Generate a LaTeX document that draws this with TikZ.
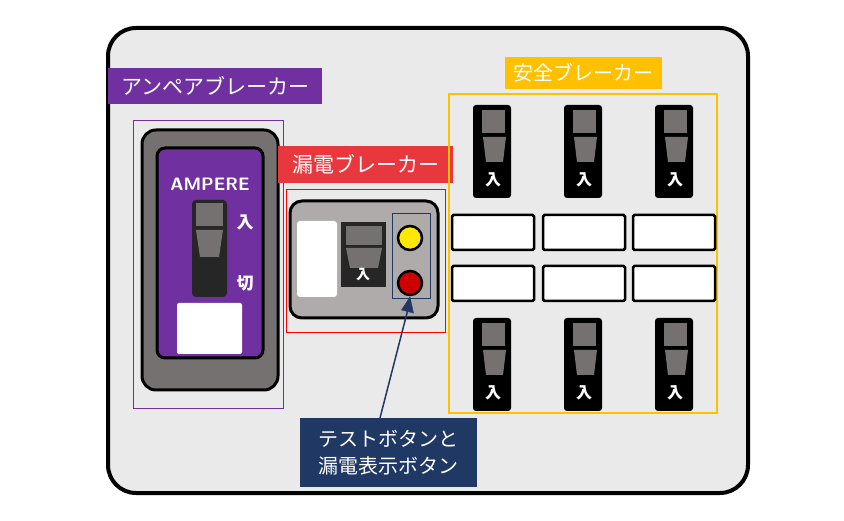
\documentclass[tikz,border=0pt]{standalone}
\usepackage{fontspec}
\setmainfont{Noto Sans CJK JP}
\usetikzlibrary{positioning}
\definecolor{panel}{HTML}{EAEAEA}
\definecolor{purp}{HTML}{7030A0}
\definecolor{dgray}{HTML}{767171}
\definecolor{lgray}{HTML}{AFABAB}
\definecolor{navy}{HTML}{1F3864}
\definecolor{sfgold}{HTML}{FFC000}
\definecolor{redl}{HTML}{E8383D}
\begin{document}
\begin{tikzpicture}[x=1pt,y=-1pt]
    \tikzstyle{tag}=[inner sep=0pt,anchor=north west]
    \tikzstyle{ltext}=[text=white,font=\fontsize{21}{24}\selectfont]
    \tikzstyle{slot}=[draw=black,line width=2.5pt,fill=white,rounded corners=1.5pt]
    \tikzstyle{knob}=[fill=dgray]
    \tikzset{switch/.pic={
        \fill[black,rounded corners=3pt] (-19,0) rectangle (19,93);
        \fill[knob] (-10,5) rectangle (13,28);
        \fill[knob] (-9,32) -- (14,32) -- (11,57) -- (-6,57) -- cycle;
        \node[text=white,font=\bfseries\fontsize{16}{16}\selectfont] at (1,75) {入};
    }}

    \useasboundingbox (0,0) rectangle (844,521);
    % panel
    \draw[line width=4pt,fill=panel,rounded corners=28pt] (108,28) rectangle (748,493);

    % ampere breaker
    \node[tag,fill=purp,minimum width=214pt,minimum height=36pt] (ampL) at (108,68) {};
    \node[ltext] at (ampL.center) {アンペアブレーカー};
    \draw[purp] (133,120) rectangle (283,408);
    \draw[line width=3pt,fill=dgray,rounded corners=14pt] (142,130) rectangle (278,390);
    \draw[line width=3pt,fill=purp,rounded corners=8pt] (157,148) rectangle (263,358);
    \node[text=white,font=\sffamily\bfseries\fontsize{18}{18}\selectfont] (amp) at (210,184) {AMPERE};
    \fill[black!85,rounded corners=4pt] (192,200) rectangle (227,297);
    \fill[knob] (196,203) rectangle (223,226);
    \fill[knob] (196,230) -- (223,230) -- (219,257) -- (200,257) -- cycle;
    \node[text=white,font=\bfseries\fontsize{17}{17}\selectfont] (on) at (245,222) {入};
    \node[text=white,font=\bfseries\fontsize{17}{17}\selectfont] (off) at (245,283) {切};
    \fill[white,rounded corners=2pt] (177,303) rectangle (242,354);

    % leakage breaker
    \node[tag,fill=redl,minimum width=175pt,minimum height=37pt] (lkL) at (278,146) {};
    \node[ltext] at (lkL.center) {漏電ブレーカー};
    \draw[red] (286,189) rectangle (445,332);
    \draw[line width=3pt,fill=lgray,rounded corners=12pt] (290,201) rectangle (438,318);
    \fill[white,rounded corners=3pt] (297,221) rectangle (337,297);
    \fill[black!85] (341,222) rectangle (386,287);
    \fill[knob] (346,226) rectangle (382,245);
    \fill[knob] (346,248) -- (382,248) -- (378,268) -- (350,268) -- cycle;
    \node[text=white,font=\bfseries\fontsize{14}{14}\selectfont] at (363,275) {入};
    \draw[navy] (392,213) rectangle (430,298);
    \node[circle,draw,line width=2.5pt,fill=yellow!90!orange,minimum size=24pt] (test) at (410,238) {};
    \node[circle,draw,line width=2.5pt,fill=red!80!black,minimum size=24pt] (lamp) at (410,283) {};

    % safety breakers
    \node[tag,fill=sfgold,minimum width=157pt,minimum height=32pt] (sfL) at (505,57) {};
    \node[ltext,font=\fontsize{20}{22}\selectfont] at (sfL.center) {安全ブレーカー};
    \draw[sfgold,line width=1.3pt] (449,94) rectangle (717,413);
    \foreach \x in {492,583,674} {
        \pic at (\x,105) {switch};
        \pic at (\x,318) {switch};
    }
    \foreach \x in {452,543,633} {
        \draw[slot] (\x,215) rectangle ++(82,35);
        \draw[slot] (\x,266) rectangle ++(82,35);
    }

    % callout
    \node[fill=navy,text=white,align=center,inner sep=3pt,minimum width=177pt,minimum height=69pt,
        font=\fontsize{20}{27}\selectfont] (note) at (388.5,452.5) {テストボタンと\\漏電表示ボタン};
    \coordinate (n0) at (380,418);
    \coordinate (tip) at (410,297);
    \coordinate (tipL) at (401.5,310);
    \coordinate (tipR) at (413.5,313);
    \coordinate (tipB) at (407.5,311);
    \draw[navy,line width=1.5pt] (n0) -- (tipB);
    \filldraw[navy,line join=miter] (tip) -- (tipL) -- (tipR) -- cycle;
\end{tikzpicture}
\end{document}
